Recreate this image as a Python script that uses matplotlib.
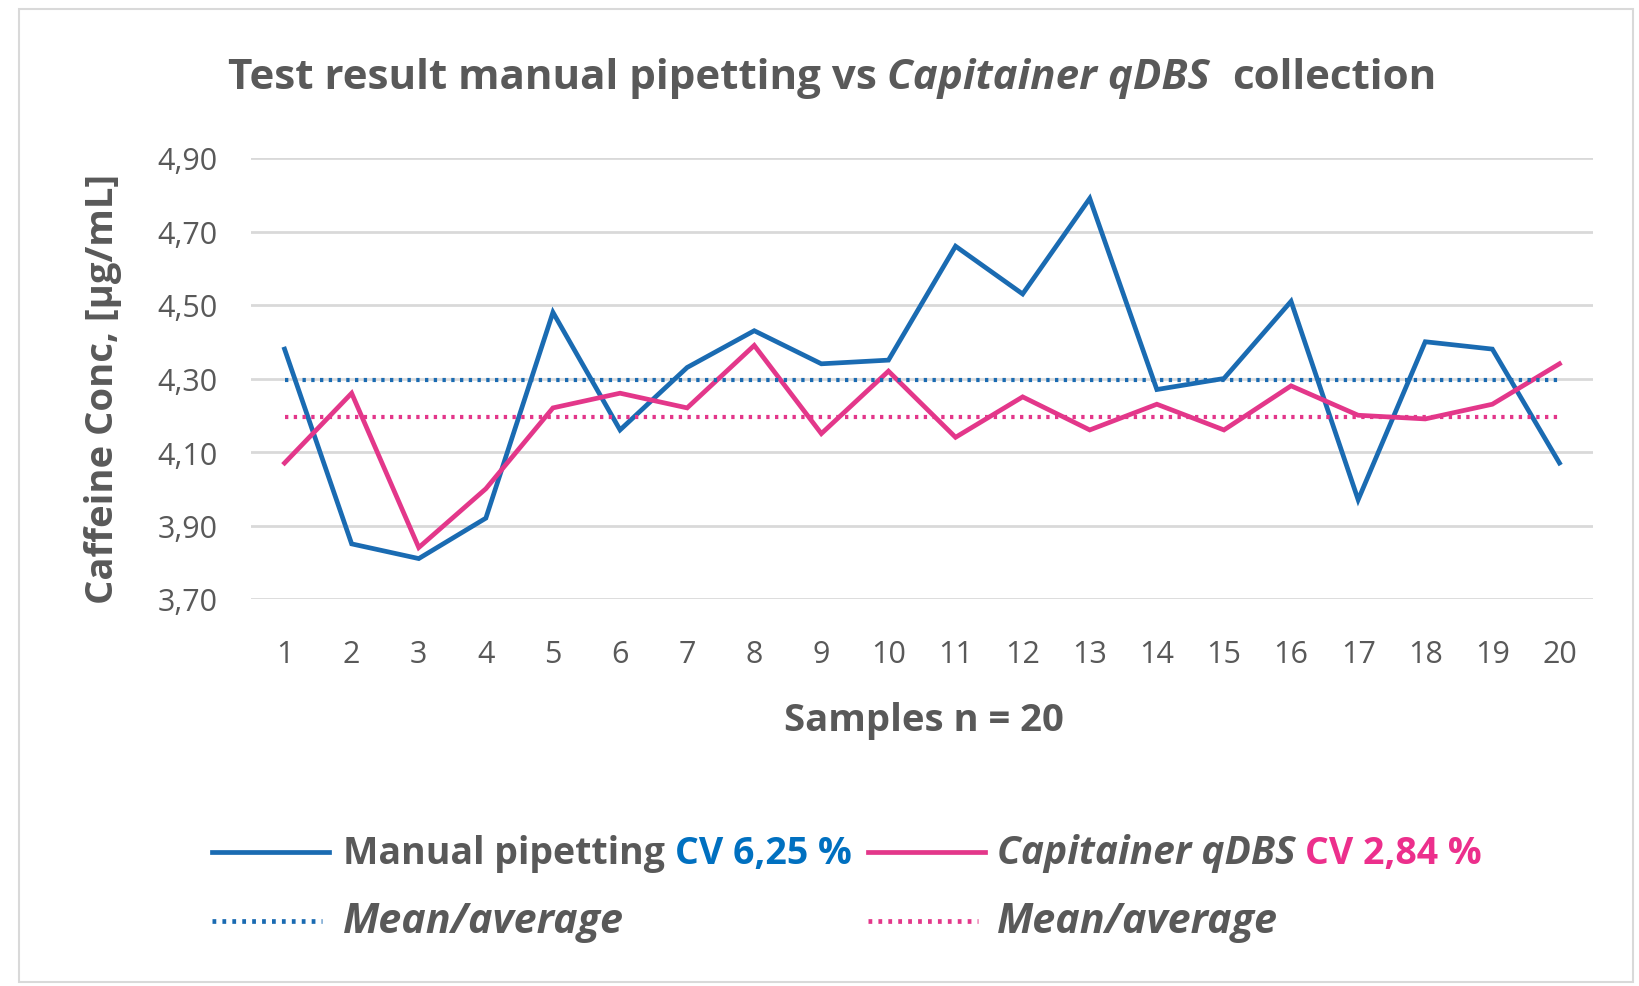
import matplotlib
matplotlib.use("Agg")
import matplotlib.pyplot as plt
from matplotlib.transforms import IdentityTransform
from matplotlib.patches import Rectangle
from matplotlib.lines import Line2D

plt.rcParams['font.family'] = ['Open Sans', 'DejaVu Sans']

# data
samples = list(range(1, 21))
manual = [4.38, 3.85, 3.81, 3.92, 4.48, 4.16, 4.33, 4.43, 4.34, 4.35,
          4.66, 4.53, 4.79, 4.27, 4.30, 4.51, 3.97, 4.40, 4.38, 4.07]
capitainer = [4.07, 4.26, 3.84, 4.00, 4.22, 4.26, 4.22, 4.39, 4.15, 4.32,
              4.14, 4.25, 4.16, 4.23, 4.16, 4.28, 4.20, 4.19, 4.23, 4.34]
manual_mean = 4.295
capitainer_mean = 4.195
yticks = [3.70, 3.90, 4.10, 4.30, 4.50, 4.70, 4.90]
ytick_labels = ['3,70', '3,90', '4,10', '4,30', '4,50', '4,70', '4,90']

BLUE = '#1A6BB2'
PINK = '#E3378A'
CV_BLUE = '#0070C0'
CV_PINK = '#EC2F8C'
GRAY = '#595959'
GRID = '#D9D9D9'
W, H = 1640, 987

fig = plt.figure(figsize=(W / 100, H / 100), dpi=100)
fig.patch.set_facecolor('white')

# outer chart border
fig.add_artist(Rectangle((19 / W, 1 - 983 / H), (1633 - 19) / W, (983 - 10) / H,
                         transform=fig.transFigure, fill=False,
                         edgecolor=GRID, linewidth=1.5))

ax = fig.add_axes([251 / W, 1 - 600 / H, (1593 - 251) / W, (600 - 159) / H])
ax.set_xlim(0.5, 20.5)
ax.set_ylim(3.70, 4.90)
ax.set_yticks(yticks)
ax.set_yticklabels(ytick_labels)
ax.set_xticks(samples)
ax.set_xticklabels([str(s) for s in samples])
for s in ax.spines.values():
    s.set_visible(False)
ax.tick_params(length=0, labelsize=22, labelcolor=GRAY)
ax.tick_params(axis='y', pad=24)
ax.tick_params(axis='x', pad=29)
ax.grid(axis='y', color=GRID, linewidth=2)
ax.set_axisbelow(True)

dots = (0, (0.8, 1.3))
ax.plot(samples, manual, color=BLUE, linewidth=3.4, solid_joinstyle='miter')
ax.plot(samples, capitainer, color=PINK, linewidth=3.4, solid_joinstyle='miter')
ax.hlines(manual_mean, samples[0], samples[-1], colors=BLUE, linewidth=3, linestyles=[dots])
ax.hlines(capitainer_mean, samples[0], samples[-1], colors=PINK, linewidth=3, linestyles=[dots])

fig.text(103 / W, 1 - 389 / H, 'Caffeine Conc, [µg/mL]', rotation=90,
         ha='center', va='center', fontsize=27.5, fontweight='bold', color=GRAY)
fig.text(924 / W, 1 - 721 / H, 'Samples n = 20', ha='center', va='center',
         fontsize=27.5, fontweight='bold', color=GRAY)

renderer = fig.canvas.get_renderer()


def text_width(s, **kw):
    t = fig.text(0, 0, s, transform=IdentityTransform(), **kw)
    w = t.get_window_extent(renderer).width
    t.remove()
    return w


def draw_parts(x, y, parts, size, center=False):
    # parts: (text, leading spaces, style, weight, color, scale); y is baseline in px from top
    space = text_width('x x', fontsize=size) - text_width('xx', fontsize=size)
    items = []
    total = 0
    for text, gap, style, weight, color, scale in parts:
        kw = dict(fontsize=size * scale, fontstyle=style, fontweight=weight, color=color)
        w = text_width(text, **kw)
        total += gap * space
        items.append((total, text, kw))
        total += w
    x0 = x - total / 2 if center else x
    for off, text, kw in items:
        fig.text(x0 + off, H - y, text, transform=IdentityTransform(),
                 va='baseline', ha='left', **kw)


# title
draw_parts(832, 89, [
    ('Test result manual pipetting vs', 0, 'normal', 'bold', GRAY, 1.0),
    ('Capitainer qDBS', 1, 'italic', 'bold', GRAY, 1.0),
    ('collection', 2, 'normal', 'bold', GRAY, 1.0),
], 30.3, center=True)

# legend
def legend_line(x0, x1, y, color, ls):
    fig.add_artist(Line2D([x0, x1], [H - y, H - y], transform=IdentityTransform(),
                          color=color, linewidth=3.4, linestyle=ls))

legend_line(212, 329, 853, BLUE, '-')
draw_parts(343, 864, [
    ('Manual pipetting', 0, 'normal', 'bold', GRAY, 1.0),
    ('CV 6,25 %', 1, 'normal', 'bold', CV_BLUE, 1.0),
], 27)
legend_line(868, 985, 853, PINK, '-')
draw_parts(997, 864, [
    ('Capitainer qDBS', 0, 'italic', 'bold', GRAY, 1.04),
    ('CV 2,84 %', 1, 'normal', 'bold', CV_PINK, 1.0),
], 27)
legend_line(212, 322, 922, BLUE, dots)
draw_parts(343, 933, [('Mean/average', 0, 'italic', 'bold', GRAY, 1.1)], 27)
legend_line(868, 978, 922, PINK, dots)
draw_parts(997, 933, [('Mean/average', 0, 'italic', 'bold', GRAY, 1.1)], 27)

fig.savefig('out.png', dpi=100)
